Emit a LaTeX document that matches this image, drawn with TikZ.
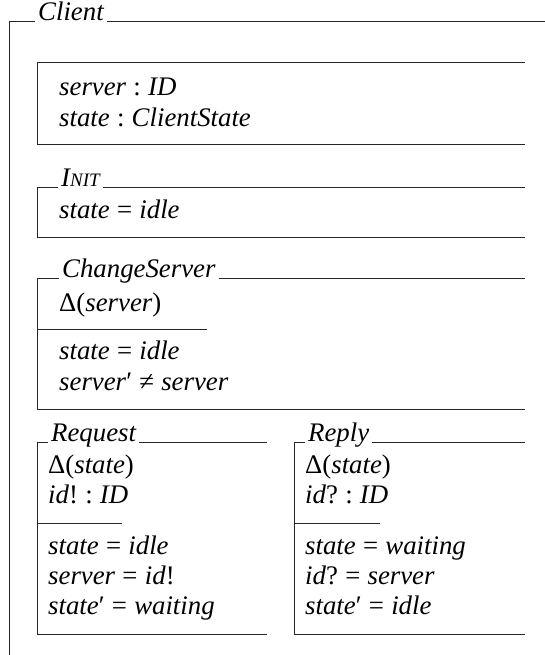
\documentclass[tikz,border=0pt]{standalone}
\usepackage{fontspec}
\setmainfont{Liberation Serif}
\usetikzlibrary{calc}

\newcommand{\zid}[1]{\textit{#1}}
\newcommand{\zrel}[1]{\hspace{0.27em}#1\hspace{0.27em}}
\newcommand{\initname}{\textit{I\fontsize{19}{19}\selectfont NIT}}

\tikzset{
  frame/.style={line width=1pt, black!85},
  zline/.style={anchor=base west, inner sep=0pt, font=\fontsize{26.8}{30}\selectfont},
  ztitle/.style={anchor=base west, inner xsep=3pt, inner ysep=0pt, font=\fontsize{26.8}{30}\selectfont\itshape},
}

\begin{document}
\begin{tikzpicture}[x=1pt,y=-1pt]
	\useasboundingbox (0,0) rectangle (545,655);

	% class frame
	\coordinate (client nw) at (9,22);
	\node[ztitle] (client) at (35,21) {Client};
	\draw[frame] (client.west |- client nw) -- (client nw) -- (9,655);
	\draw[frame] (client.east |- client nw) -- (545,22);

	% state schema
	\draw[frame] (525,63) -- (37,63) -- (37,145) -- (525,145);
	\node[zline] (server decl) at (59,96) {\zid{server}\zrel{:}\zid{ID}};
	\node[zline] (state decl) at (59,127) {\zid{state}\zrel{:}\zid{ClientState}};

	% INIT
	\coordinate (init nw) at (37,187);
	\node[ztitle] (init) at (58,186) {\initname};
	\draw[frame] (init.west |- init nw) -- (init nw) -- (37,237) -- (525,237);
	\draw[frame] (init.east |- init nw) -- (525,187);
	\node[zline] (init pred) at (59,218) {\zid{state}\zrel{=}\zid{idle}};

	% ChangeServer
	\coordinate (chg nw) at (37,278);
	\node[ztitle] (chg) at (59,277) {ChangeServer};
	\draw[frame] (chg.west |- chg nw) -- (chg nw) -- (37,409) -- (525,409);
	\draw[frame] (chg.east |- chg nw) -- (525,278);
	\draw[frame] (37,329) -- (207,329); %divider
	\node[zline] (chg delta) at (59,311) {Δ(\zid{server})};
	\node[zline] (chg pred a) at (59,359) {\zid{state}\zrel{=}\zid{idle}};
	\node[zline] (chg pred b) at (59,390) {\zid{server}′\zrel{≠}\zid{server}};

	% Request
	\coordinate (req nw) at (37,442);
	\node[ztitle] (req) at (48,441) {Request};
	\draw[frame] (req.west |- req nw) -- (req nw) -- (37,634) -- (267,634);
	\draw[frame] (req.east |- req nw) -- (267,442);
	\draw[frame] (37,523) -- (122,523); %divider
	\node[zline] (req delta) at (48,473) {Δ(\zid{state})};
	\node[zline] (req out) at (48,503) {\zid{id}!\zrel{:}\zid{ID}};
	\node[zline] (req pred a) at (48,554) {\zid{state}\zrel{=}\zid{idle}};
	\node[zline] (req pred b) at (48,584) {\zid{server}\zrel{=}\zid{id}!};
	\node[zline] (req pred c) at (48,614) {\zid{state}′\zrel{=}\zid{waiting}};

	% Reply
	\coordinate (rep nw) at (294,442);
	\node[ztitle] (rep) at (305,441) {Reply};
	\draw[frame] (rep.west |- rep nw) -- (rep nw) -- (294,634) -- (525,634);
	\draw[frame] (rep.east |- rep nw) -- (525,442);
	\draw[frame] (294,523) -- (380,523); %divider
	\node[zline] (rep delta) at (305,473) {Δ(\zid{state})};
	\node[zline] (rep in) at (305,503) {\zid{id}?\zrel{:}\zid{ID}};
	\node[zline] (rep pred a) at (305,554) {\zid{state}\zrel{=}\zid{waiting}};
	\node[zline] (rep pred b) at (305,584) {\zid{id}?\zrel{=}\zid{server}};
	\node[zline] (rep pred c) at (305,614) {\zid{state}′\zrel{=}\zid{idle}};

\end{tikzpicture}
\end{document}
